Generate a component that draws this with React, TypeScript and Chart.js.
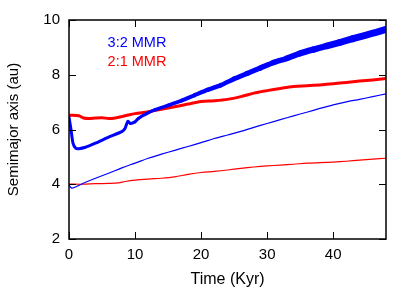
import React, { useEffect, useRef } from "react";
import { Chart, registerables } from "chart.js";

Chart.register(...registerables);

// 3:2 MMR outer planet (thick blue)
const t32Outer = [0, 0.3, 0.6, 1.0, 1.5, 2.5, 4, 6, 8, 8.5, 8.9, 9.3, 10, 10.5, 11.5, 13, 15, 17, 19, 21, 23, 25, 27, 29, 31, 33, 35, 37, 39, 41, 43, 45, 46.5, 48];
const a32Outer = [6.45, 6.0, 5.5, 5.32, 5.3, 5.35, 5.5, 5.72, 5.92, 6.05, 6.3, 6.22, 6.28, 6.4, 6.55, 6.72, 6.88, 7.05, 7.25, 7.45, 7.62, 7.85, 8.05, 8.25, 8.45, 8.6, 8.78, 8.92, 9.05, 9.18, 9.32, 9.45, 9.55, 9.66];

// 2:1 MMR outer planet (thick red)
const t21Outer = [0, 1.5, 2.2, 3, 4, 5, 6, 7, 8, 9, 10, 12, 14, 16, 18, 20, 22, 24, 26, 28, 30, 32, 34, 36, 38, 40, 42, 44, 46, 48];
const a21Outer = [6.52, 6.5, 6.42, 6.4, 6.42, 6.43, 6.4, 6.42, 6.47, 6.53, 6.58, 6.65, 6.74, 6.83, 6.93, 7.02, 7.05, 7.1, 7.2, 7.33, 7.42, 7.5, 7.57, 7.6, 7.63, 7.67, 7.72, 7.77, 7.81, 7.86];

// 3:2 MMR inner planet (thin blue)
const t32Inner = [0, 0.4, 0.8, 2, 4, 6, 8, 10, 12, 14, 16, 18, 20, 22, 24, 26, 28, 30, 32, 34, 36, 38, 40, 42, 44, 46, 48];
const a32Inner = [3.97, 3.86, 3.88, 4.02, 4.22, 4.4, 4.6, 4.77, 4.95, 5.1, 5.24, 5.38, 5.52, 5.67, 5.8, 5.93, 6.08, 6.22, 6.36, 6.5, 6.63, 6.77, 6.9, 7.01, 7.1, 7.2, 7.3];

// 2:1 MMR inner planet (thin red)
const t21Inner = [0, 2, 4, 6, 7.5, 8.5, 10, 12, 14, 16, 18, 20, 22, 24, 26, 28, 30, 32, 34, 36, 38, 40, 42, 44, 46, 48];
const a21Inner = [4.01, 4.0, 4.02, 4.03, 4.05, 4.1, 4.15, 4.19, 4.22, 4.27, 4.36, 4.43, 4.47, 4.52, 4.58, 4.63, 4.67, 4.7, 4.73, 4.77, 4.79, 4.81, 4.84, 4.88, 4.92, 4.95];

const xTicks = [0, 10, 20, 30, 40];
const legendLabels = ["3:2 MMR", "2:1 MMR"];

const BLUE = "#0000ff";
const RED = "#ff0000";
const FONT = "'Liberation Sans', Arial, Helvetica, sans-serif";

const pts = (xs: number[], ys: number[]) => xs.map((x, i) => ({ x, y: ys[i] }));

const framePlugin = {
  id: "frame",
  afterDatasetsDraw(chart: any) {
    const { ctx, chartArea } = chart;
    const { left, right, top, bottom } = chartArea;
    const xs = chart.scales.x;
    const ys = chart.scales.y;
    const tl = 7;
    ctx.save();
    ctx.strokeStyle = "#000";
    ctx.lineWidth = 1;
    ctx.beginPath();
    xs.ticks.forEach((t: any) => {
      const px = Math.round(xs.getPixelForValue(t.value)) + 0.5;
      ctx.moveTo(px, bottom);
      ctx.lineTo(px, bottom - tl);
      ctx.moveTo(px, top);
      ctx.lineTo(px, top + tl);
    });
    ys.ticks.forEach((t: any) => {
      const py = Math.round(ys.getPixelForValue(t.value)) + 0.5;
      ctx.moveTo(left, py);
      ctx.lineTo(left + tl, py);
      ctx.moveTo(right, py);
      ctx.lineTo(right - tl, py);
    });
    ctx.stroke();
    ctx.lineWidth = 1.5;
    ctx.strokeRect(left, top, right - left, bottom - top);
    // in-plot labels
    ctx.font = `14.5px ${FONT}`;
    ctx.textBaseline = "middle";
    ctx.textAlign = "left";
    ctx.fillStyle = BLUE;
    ctx.fillText(legendLabels[0], left + 38.6, top + 22.7);
    ctx.fillStyle = RED;
    ctx.fillText(legendLabels[1], left + 38.6, top + 41.7);
    ctx.restore();
  },
};

export default function App() {
  const ref = useRef<HTMLCanvasElement>(null);
  useEffect(() => {
    if (!ref.current) return;
    const chart = new Chart(ref.current, {
      type: "line",
      data: {
        datasets: [
          {
            data: pts(t32Inner, a32Inner),
            borderColor: BLUE,
            borderWidth: 1.2,
            pointRadius: 0,
            tension: 0.3,
          },
          {
            data: pts(t21Inner, a21Inner),
            borderColor: RED,
            borderWidth: 1.2,
            pointRadius: 0,
            tension: 0.3,
          },
          {
            data: pts(t32Outer, a32Outer),
            borderColor: BLUE,
            borderWidth: 3,
            pointRadius: 0,
            tension: 0.2,
            borderCapStyle: "round",
            borderJoinStyle: "round",
            segment: {
              borderWidth: (c: any) => Math.min(7, 3 + Math.max(0, c.p0.parsed.x - 9) * 0.12),
              borderCapStyle: () => "round",
            },
          },
          {
            data: pts(t21Outer, a21Outer),
            borderColor: RED,
            borderWidth: 3,
            pointRadius: 0,
            tension: 0.3,
          },
        ],
      },
      options: {
        responsive: false,
        animation: false,
        layout: { padding: { top: 20, right: 29, left: 0, bottom: 0 } },
        plugins: { legend: { display: false }, tooltip: { enabled: false } },
        scales: {
          x: {
            type: "linear",
            min: 0,
            max: 48,
            afterBuildTicks: (s: any) => {
              s.ticks = xTicks.map((v) => ({ value: v }));
            },
            afterFit: (s: any) => {
              s.height = 52;
            },
            grid: { display: false, drawTicks: false },
            border: { display: false },
            ticks: { color: "#000", font: { family: FONT, size: 15 }, padding: 7, maxRotation: 0 },
            title: {
              display: true,
              text: "Time (Kyr)",
              color: "#000",
              font: { family: FONT, size: 16 },
              padding: { top: 0, bottom: 2 },
            },
          },
          y: {
            type: "linear",
            min: 2,
            max: 10,
            ticks: { stepSize: 2, color: "#000", font: { family: FONT, size: 15 }, padding: 9 },
            afterFit: (s: any) => {
              s.width = 69;
            },
            grid: { display: false, drawTicks: false },
            border: { display: false },
            title: {
              display: true,
              text: "Semimajor axis (au)",
              color: "#000",
              font: { family: FONT, size: 15 },
              padding: { top: 5, bottom: 0 },
            },
          },
        },
      },
      plugins: [framePlugin],
    });
    return () => chart.destroy();
  }, []);
  return (
    <div style={{ position: "fixed", left: 0, top: 0, width: 415, height: 291, background: "#fff" }}>
      <canvas ref={ref} width={415} height={291} />
    </div>
  );
}
